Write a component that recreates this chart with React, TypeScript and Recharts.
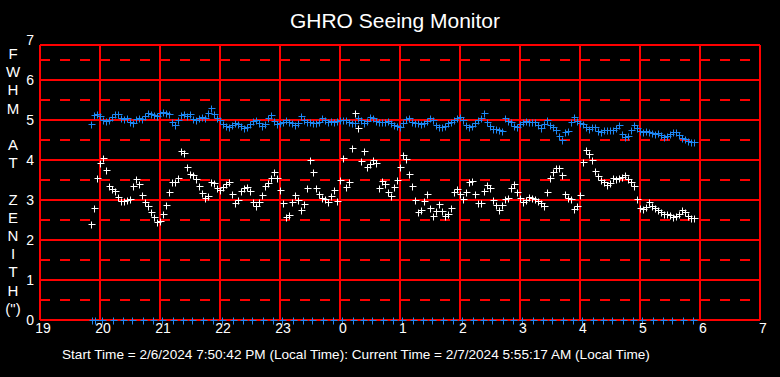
import { ReferenceLine, Scatter, ScatterChart, XAxis, YAxis } from 'recharts';

// sample times: one reading every 0.05 h starting 19.85 (7:51 PM), hours past midnight run on as 24..30
const T0 = 19.85;
const STEP = 0.05;

// FWHM at zenith (arcsec), upper (blue) series
const blueFwhm = [
  4.9, 5.12, 5.16,
  5.1, 5.0, 4.97, 4.99, 5.08, 5.15, 5.14, 5.06, 5.03, 5.05, 4.95, 4.93, 5.03, 5.05, 5.03, 5.1, 5.17, 5.16, 5.12, 5.1,
  5.17, 5.2, 5.18, 5.16, 4.95, 4.88, 5.0, 5.12, 5.15, 5.1, 5.15, 5.02, 5.0, 5.04, 5.08, 5.05, 5.18, 5.3, 5.15, 5.05,
  5.0, 4.9, 4.85, 4.83, 4.88, 4.93, 4.9, 4.84, 4.8, 4.82, 4.9, 4.97, 5.0, 4.93, 4.86, 4.9, 5.05, 5.12, 4.98, 4.9,
  4.92, 4.95, 5.0, 4.96, 4.92, 4.88, 4.92, 5.1, 5.0, 4.95, 4.94, 4.92, 4.92, 4.96, 5.04, 5.0, 4.96, 4.97, 4.95, 4.97,
  5.0, 5.01, 4.99, 4.95, 4.92, 4.93, 5.04, 5.0, 4.92, 4.98, 5.08, 5.05, 4.97, 4.95, 4.96, 4.95, 4.97, 4.92, 4.88, 4.86,
  4.83, 4.92, 5.03, 5.04, 4.96, 4.92, 4.92, 4.9, 4.93, 4.98, 5.04, 5.0, 4.88, 4.83, 4.82, 4.86, 4.92, 4.96, 5.0, 5.05,
  5.08, 5.0, 4.88, 4.83, 4.85, 4.92, 5.0, 5.05, 5.17, 4.95, 4.85, 4.78, 4.78, 4.75, 4.72, 5.04, 4.97, 4.96, 4.86, 4.83,
  4.9, 4.96, 4.97, 4.96, 4.95, 4.96, 4.88, 4.79, 4.9, 5.0, 4.88, 4.83, 4.75, 4.6, 4.5, 4.7, 4.72, 4.95, 5.08, 4.97,
  4.92, 4.9, 4.83, 4.78, 4.82, 4.83, 4.72, 4.7, 4.74, 4.76, 4.75, 4.76, 4.8, 4.88, 4.65, 4.58, 4.6, 4.75, 4.88, 4.8,
  4.72, 4.7, 4.72, 4.7, 4.67, 4.66, 4.67, 4.62, 4.58, 4.6, 4.66, 4.7, 4.7, 4.62, 4.54, 4.52, 4.48, 4.45, 4.44,
];

// lower (white) series
const whiteFwhm = [
  2.4, 2.8, 3.55,
  3.92, 4.05, 3.75, 3.35, 3.28, 3.22, 3.08, 2.97, 2.98, 3.0, 3.02, 3.35, 3.52, 3.4, 3.12, 2.96, 2.85, 2.7, 2.58, 2.45,
  2.48, 2.65, 2.88, 3.2, 3.45, 3.44, 3.55, 4.22, 4.18, 3.82, 3.66, 3.62, 3.52, 3.36, 3.18, 3.06, 3.1, 3.45, 3.42, 3.3,
  3.26, 3.32, 3.4, 3.45, 3.15, 2.92, 3.0, 3.22, 3.3, 3.32, 3.22, 2.95, 2.85, 2.95, 3.12, 3.34, 3.42, 3.55, 3.7, 3.55,
  3.25, 2.92, 2.58, 2.62, 2.95, 3.12, 3.0, 2.75, 2.9, 3.3, 4.0, 3.7, 3.3, 3.15, 3.06, 3.02, 2.96, 3.1, 3.24, 2.98,
  3.5, 4.04, 3.32, 3.45, 4.3, 5.17, 4.8, 3.98, 4.22, 3.82, 3.9, 4.0, 3.92, 3.3, 3.48, 3.4, 3.2, 3.1, 3.32, 3.5,
  3.82, 4.12, 4.02, 3.65, 3.35, 3.0, 2.7, 2.75, 2.98, 3.15, 2.8, 2.6, 2.72, 2.9, 2.72, 2.6, 2.65, 2.8, 3.2, 3.28,
  3.15, 3.02, 3.2, 3.45, 3.48, 3.15, 2.92, 2.92, 3.22, 3.38, 3.3, 3.0, 2.88, 2.76, 2.88, 3.02, 3.06, 3.3, 3.4, 3.2,
  3.05, 2.96, 3.0, 3.08, 3.05, 3.02, 2.98, 2.92, 2.85, 3.2, 3.55, 3.7, 3.8, 3.8, 3.62, 3.15, 3.04, 3.02, 2.78, 2.85,
  3.13, 3.95, 4.25, 4.15, 4.0, 3.72, 3.6, 3.5, 3.45, 3.38, 3.42, 3.54, 3.52, 3.55, 3.58, 3.62, 3.52, 3.45, 3.35, 3.02,
  2.8, 2.78, 2.82, 2.94, 2.86, 2.8, 2.76, 2.7, 2.64, 2.66, 2.62, 2.58, 2.6, 2.64, 2.74, 2.7, 2.6, 2.54, 2.55,
];

// zero-valued readings along the bottom, every 10 minutes
const baseTimes = [
  19.86, 19.92, 20.04, 20.21, 20.38, 20.54, 20.71, 20.88, 21.04, 21.21, 21.38, 21.54, 21.71, 21.88, 22.04, 22.21,
  22.38, 22.54, 22.71, 22.88, 23.04, 23.21, 23.38, 23.54, 23.71, 23.88, 24.04, 24.21, 24.38, 24.54, 24.71, 24.88,
  25.04, 25.21, 25.38, 25.54, 25.71, 25.88, 26.04, 26.21, 26.38, 26.54, 26.71, 26.88, 27.04, 27.21, 27.38, 27.54,
  27.71, 27.88, 28.04, 28.21, 28.38, 28.54, 28.71, 28.88, 29.04, 29.21, 29.38, 29.54, 29.71, 29.88,
];
const baseValues = baseTimes.map(() => 0);

const xTicks = [19, 20, 21, 22, 23, 24, 25, 26, 27, 28, 29, 30, 31];
const yTicks = [0, 1, 2, 3, 4, 5, 6, 7];
const hourLines = [20, 21, 22, 23, 24, 25, 26, 27, 28, 29, 30];
const solidLevels = [1, 2, 3, 4, 5, 6];
const dashedLevels = [0.5, 1.5, 2.5, 3.5, 4.5, 5.5, 6.5];
const yLabel = ['F', 'W', 'H', 'M', '', 'A', 'T', '', 'Z', 'E', 'N', 'I', 'T', 'H', '(")'];

const title = 'GHRO Seeing Monitor';
const footer =
  'Start Time = 2/6/2024 7:50:42 PM (Local Time): Current Time = 2/7/2024 5:55:17 AM (Local Time)';

const BLUE = '#1e88f5';
const RED = '#ff0000';
const FONT = '"Liberation Sans", Arial, sans-serif';
const TOP = 6.875; // plot frame stops just under the 7 tick

const times = blueFwhm.map((_, i) => +(T0 + i * STEP).toFixed(2));
const blueData = times.map((t, i) => ({ t, v: blueFwhm[i] }));
const whiteData = times.map((t, i) => ({ t, v: whiteFwhm[i] }));
const baseData = baseTimes.map((t, i) => ({ t, v: baseValues[i] }));

function cross(color: string) {
  return (p: any) => {
    const x = Math.round(p.cx) + 0.5;
    const y = Math.round(p.cy) + 0.5;
    return <path d={`M${x - 3},${y}h7M${x},${y - 3}v7`} stroke={color} strokeWidth={1} fill="none" />;
  };
}

export default function App() {
  return (
    <div style={{ position: 'absolute', left: 0, top: 0, width: 780, height: 377, background: '#000', fontFamily: FONT }}>
      <div style={{ position: 'absolute', left: 0, width: 790, top: 9, textAlign: 'center', color: '#fff', fontSize: 21 }}>
        {title}
      </div>
      {yLabel.map((c, i) => (
        <div key={i} style={{ position: 'absolute', left: 0, width: 26, top: 45 + i * 18.2, textAlign: 'center', color: '#fff', fontSize: 15 }}>
          {c}
        </div>
      ))}
      <div style={{ position: 'absolute', left: 62, top: 347, color: '#fff', fontSize: 13.6, whiteSpace: 'nowrap' }}>{footer}</div>
      <ScatterChart width={780} height={377} margin={{ top: 40, right: 20, bottom: 37, left: 0 }} style={{ position: 'absolute', left: 0, top: 0 }}>
        <XAxis
          type="number"
          dataKey="t"
          domain={[19, 31]}
          ticks={xTicks}
          tickFormatter={(v) => String(v % 24)}
          height={20}
          axisLine={false}
          tickLine={false}
          tickSize={1}
          tickMargin={2}
          tick={{ fill: '#fff', fontSize: 14, fontFamily: FONT, dx: 3 }}
          interval={0}
        />
        <YAxis
          type="number"
          dataKey="v"
          domain={[0, 7]}
          ticks={yTicks}
          width={40}
          axisLine={false}
          tickLine={false}
          tickSize={3}
          tickMargin={3}
          tick={{ fill: '#fff', fontSize: 14, fontFamily: FONT }}
          interval={0}
        />
        {dashedLevels.map((y) => (
          <ReferenceLine key={'d' + y} y={y} stroke={RED} strokeWidth={2} strokeDasharray="10 10" />
        ))}
        {solidLevels.map((y) => (
          <ReferenceLine key={'s' + y} y={y} stroke={RED} strokeWidth={2} />
        ))}
        {hourLines.map((x) => (
          <ReferenceLine key={'h' + x} stroke={RED} strokeWidth={2} segment={[{ x, y: 0 }, { x, y: TOP }]} />
        ))}
        <ReferenceLine y={0} stroke={RED} strokeWidth={2} />
        <ReferenceLine y={TOP} stroke={RED} strokeWidth={2} />
        <ReferenceLine stroke={RED} strokeWidth={2} segment={[{ x: 19, y: 0 }, { x: 19, y: TOP }]} />
        <ReferenceLine stroke={RED} strokeWidth={2} segment={[{ x: 31, y: 0 }, { x: 31, y: TOP }]} />
        <Scatter data={baseData} shape={cross(BLUE)} isAnimationActive={false} />
        <Scatter data={blueData} shape={cross(BLUE)} isAnimationActive={false} />
        <Scatter data={whiteData} shape={cross('#ffffff')} isAnimationActive={false} />
      </ScatterChart>
    </div>
  );
}
